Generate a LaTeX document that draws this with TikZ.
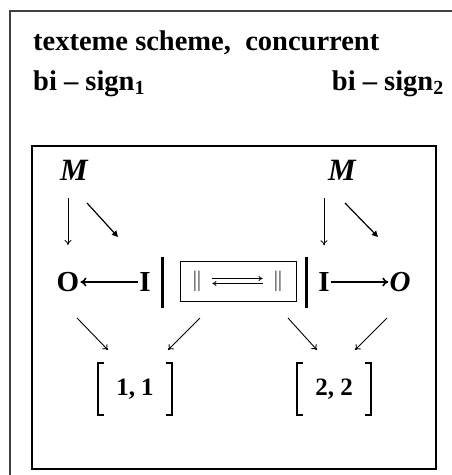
\documentclass[tikz,border=0pt]{standalone}
\usepackage{fontspec}
\setmainfont{Liberation Serif}
\usetikzlibrary{positioning, arrows.meta}
\tikzset{
    head text/.style={font=\fontsize{28.5}{30}\selectfont\bfseries, inner sep=0pt},
    m node/.style={font=\fontsize{31}{32}\selectfont\bfseries\itshape, inner sep=0pt},
    io node/.style={font=\fontsize{29}{30}\selectfont\bfseries, inner sep=1pt},
    pair node/.style={font=\fontsize{25}{26}\selectfont\bfseries, minimum width=74pt, minimum height=52pt, inner sep=0pt},
    bar node/.style={fill=black, minimum width=3pt, minimum height=51pt, inner sep=0pt},
    down arrow/.style={-{To[length=5pt, width=7pt]}, line width=0.8pt},
    slant arrow/.style={-{Triangle[length=6pt, width=6pt]}, line width=1.2pt},
    thin slant/.style={-{To[length=5pt, width=7pt]}, line width=0.9pt},
    long arrow/.style={-{To[length=6pt, width=9pt]}, line width=1.6pt},
    bracket/.style={line width=2.2pt},
}

\begin{document}
\begin{tikzpicture}[x=1pt, y=-1pt]
    \useasboundingbox (0,0) rectangle (451,475);
    % frames
    \draw[line width=1.5pt, black!75] (10,11) rectangle (470,490);
    \draw[line width=1.5pt] (32,146) rectangle (436,469);
    % heading
    \node[head text, anchor=base west] (title) at (33,50) {texteme scheme,\ \ concurrent};
    \node[head text, anchor=base west] (signa) at (33,90) {bi – sign\textsubscript{1}};
    \node[head text, anchor=base east] (signb) at (444,90) {bi – sign\textsubscript{2}};
    % upper row
    \node[m node] (Ma) at (74,170) {M};
    \node[m node] (Mb) at (342,170) {M};
    % middle row
    \node[io node] (Oa) at (68,282) {O};
    \node[io node] (Ia) at (145,282) {I};
    \node[bar node] (barL) at (162,282) {};
    \node[draw, line width=1pt, minimum width=116pt, minimum height=40pt] (swap) at (238,281) {};
    \node[font=\fontsize{20}{22}\selectfont, inner sep=1pt] (la) at (197,281) {$\Vert$};
    \node[font=\fontsize{20}{22}\selectfont, inner sep=1pt] (ra) at (278,281) {$\Vert$};
    \node[bar node] (barR) at (306,282) {};
    \node[io node] (Ib) at (324,282) {I};
    \node[io node] (Ob) at (400,282) {\itshape O};
    % lower row
    \node[pair node] (Pa) at (135,389) {1,\ 1};
    \node[pair node] (Pb) at (334,389) {2,\ 2};
    % arrow ends
    \coordinate (sa1) at (87,203);
    \coordinate (sa2) at (118,237);
    \coordinate (sb1) at (345,203);
    \coordinate (sb2) at (378,237);
    \coordinate (ba1) at (77,318);
    \coordinate (ba2) at (108,350);
    \coordinate (ba3) at (200,318);
    \coordinate (ba4) at (168,350);
    \coordinate (bb1) at (288,318);
    \coordinate (bb2) at (317,350);
    \coordinate (bb3) at (387,318);
    \coordinate (bb4) at (355,350);

    \draw[down arrow, shorten <=18pt, shorten >=26pt] (Ma.south -| Oa) -- (Oa.north);
    \draw[down arrow, shorten <=18pt, shorten >=26pt] (Mb.south -| Ib) -- (Ib.north);
    \draw[slant arrow] (sa1) -- (sa2);
    \draw[slant arrow] (sb1) -- (sb2);
    \draw[long arrow] (Ia) -- (Oa);
    \draw[long arrow] (Ib) -- (Ob);
    \draw[-{To[length=4pt, width=5pt]}, line width=0.8pt, shorten <=9pt, shorten >=9pt]
        ([yshift=2.5pt]la.east) -- ([yshift=2.5pt]ra.west);
    \draw[-{To[length=4pt, width=5pt]}, line width=0.8pt, shorten <=9pt, shorten >=9pt]
        ([yshift=-2.5pt]ra.west) -- ([yshift=-2.5pt]la.east);
    \draw[thin slant] (ba1) -- (ba2);
    \draw[thin slant] (ba3) -- (ba4);
    \draw[thin slant] (bb1) -- (bb2);
    \draw[thin slant] (bb3) -- (bb4);
    % brackets
    \foreach \p in {Pa,Pb} {
        \draw[bracket] ([xshift=6pt]\p.north west) -- (\p.north west) -- (\p.south west) -- ([xshift=6pt]\p.south west);
        \draw[bracket] ([xshift=-6pt]\p.north east) -- (\p.north east) -- (\p.south east) -- ([xshift=-6pt]\p.south east);
    }
\end{tikzpicture}
\end{document}
